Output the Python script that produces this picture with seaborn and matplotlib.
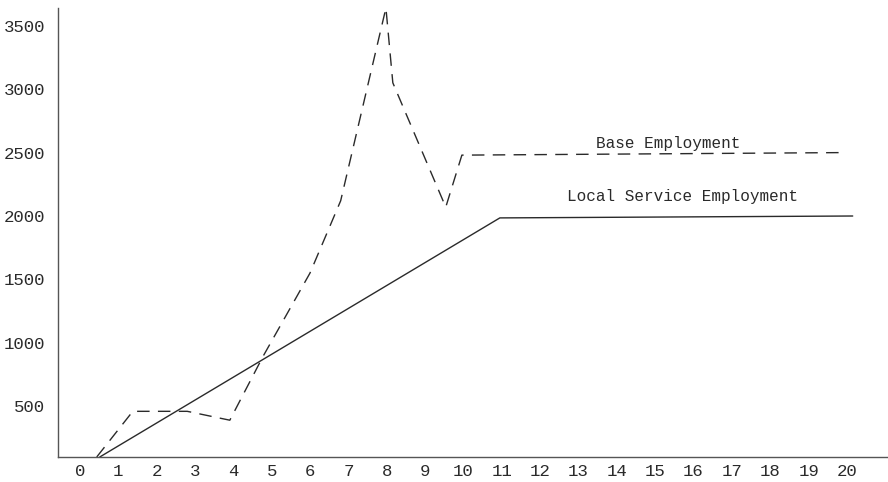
import pandas as pd
import matplotlib.pyplot as plt
import seaborn as sns

# Values
base_x = [0.44, 1.38, 2.8, 3.91, 4.77, 6.0, 6.8, 7.98, 8.16, 9.54, 9.96, 19.9]
base_y = [100, 460, 460, 390, 890, 1550, 2120, 3640, 3050, 2070, 2480, 2500]

local_x = [0.52, 10.95, 20.15]
local_y = [100, 1985, 2000]

x_ticks = list(range(0, 21))
y_ticks = [500, 1000, 1500, 2000, 2500, 3000, 3500]

base = pd.DataFrame({"year": base_x, "employment": base_y})
local = pd.DataFrame({"year": local_x, "employment": local_y})

sns.set_style("white")
plt.rcParams['font.family'] = ['Liberation Mono', 'DejaVu Sans Mono']

fig = plt.figure(figsize=(8.88, 4.82), dpi=100)
ax = fig.add_axes([0.0653, 0.0519, 0.9347, 0.9315])

ink = "#2a2a2a"
sns.lineplot(data=base, x="year", y="employment", ax=ax, color=ink,
             linewidth=1.0, linestyle=(0, (9, 6)), sort=False)
sns.lineplot(data=local, x="year", y="employment", ax=ax, color=ink,
             linewidth=1.0, sort=False)

ax.text(15.33, 2575, "Base Employment", ha="center", va="center",
        fontsize=11.5, color=ink)
ax.text(15.72, 2150, "Local Service Employment", ha="center", va="center",
        fontsize=11.5, color=ink)

ax.set_xlim(-0.57, 21.07)
ax.set_ylim(100, 3640)
ax.set_xticks(x_ticks)
ax.set_yticks(y_ticks)
ax.tick_params(axis="both", length=0, labelsize=12.5, colors=ink)
ax.tick_params(axis="x", pad=5)
ax.tick_params(axis="y", pad=9)
ax.set_xlabel("")
ax.set_ylabel("")

sns.despine(ax=ax)
for side in ["left", "bottom"]:
    ax.spines[side].set_color("#555555")
    ax.spines[side].set_linewidth(1.0)

fig.savefig("out.png", dpi=100)
plt.close()
